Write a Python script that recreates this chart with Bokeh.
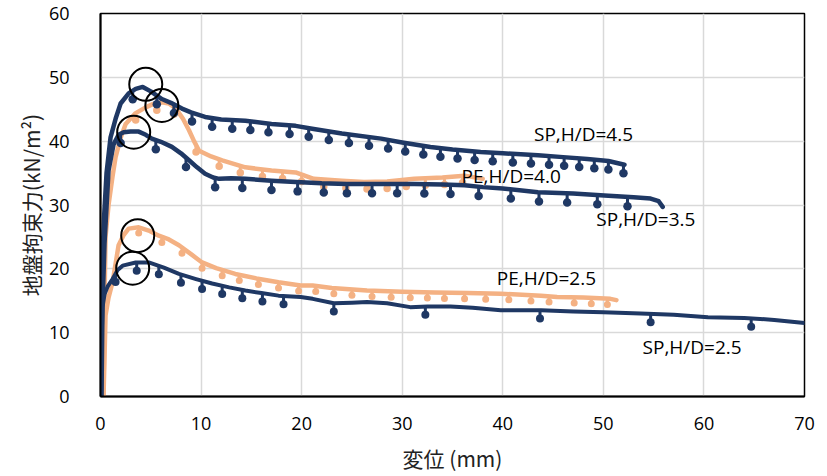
import numpy as np
from bokeh.plotting import figure
from bokeh.models import Range1d, Label, FixedTicker
from bokeh.embed import file_html
from bokeh.resources import INLINE

# ---------------- data ----------------
sp45_x = [0.05, 0.1, 0.2, 0.35, 0.6, 1.0, 1.5, 2.0, 2.8, 3.5, 4.2, 5.0, 6.1, 7.0, 8.1, 9.0, 10.4, 12.0,
          14.4, 17.0, 19.4, 21.2, 24.0, 27.9, 30.0, 32.8, 35.0, 37.8, 40.0, 43.5, 46.0, 48.4, 50.5, 52.1]
sp45_y = [0, 12, 22, 28, 35, 40.6, 43.5, 45.9, 47.5, 48.2, 48.5, 47.8, 46.6, 46.0, 45.1, 44.5, 43.8, 43.4,
          43.2, 42.7, 42.4, 41.9, 41.2, 40.4, 39.8, 39.1, 38.7, 38.3, 38.1, 37.8, 37.5, 37.2, 36.9, 36.3]
sp45_dips = [3.2, 5.6, 7.3, 9.1, 11.1, 13.1, 14.9, 16.7, 18.8, 20.7, 22.7, 24.7, 26.7, 28.6, 30.3, 32.1,
             33.8, 35.5, 37.2, 39.0, 41.0, 42.8, 44.6, 46.1, 47.6, 49.1, 50.5, 52.0]
sp45_depth = 1.35

sp35_x = [0.1, 0.2, 0.4, 0.8, 1.3, 1.8, 2.3, 3.0, 3.8, 4.5, 5.1, 6.0, 7.1, 8.0, 8.8, 9.6, 10.4, 11.2, 11.8,
          13.0, 14.4, 17.0, 19.4, 22.0, 24.5, 28.0, 31.2, 34.0, 36.2, 38.0, 40.0, 43.5, 47.0, 50.1, 53.0,
          54.7, 55.5, 55.9]
sp35_y = [0, 14, 24, 35.4, 39.5, 41.0, 41.4, 41.5, 41.5, 41.0, 40.4, 39.9, 39.1, 38.1, 37.0, 35.9, 34.9,
          34.3, 34.1, 34.2, 34.1, 33.8, 33.6, 33.4, 33.3, 33.3, 33.3, 33.2, 33.1, 32.8, 32.6, 32.0, 31.8,
          31.5, 31.2, 31.0, 30.6, 29.7]
sp35_dips = [2.0, 5.5, 8.5, 11.4, 14.1, 17.0, 19.6, 22.2, 24.5, 27.0, 29.5, 32.2, 34.8, 37.6, 40.8, 43.6,
             46.4, 49.4, 52.4]
sp35_depth = 1.45

pe40_x = [0.3, 0.4, 0.5, 0.8, 1.2, 1.5, 2.0, 2.5, 3.5, 4.5, 5.2, 6.1, 6.8, 7.5, 8.2, 8.8, 9.3, 9.8, 11.0,
          12.1, 14.4, 17.0, 19.4, 21.2, 24.0, 26.2, 28.5, 31.2, 34.0, 36.2, 38.0]
pe40_y = [0, 15, 25, 30, 34.5, 37.5, 40.5, 42.7, 44.4, 45.3, 45.8, 46.1, 45.9, 45.1, 43.5, 41.7, 40.0, 38.5,
          37.6, 37.0, 35.9, 35.4, 35.1, 34.1, 33.8, 33.6, 33.7, 34.1, 34.3, 34.6, 34.1]
pe40_dips = [3.5, 5.6, 7.3, 9.5, 11.8, 13.9, 16.1, 18.1, 20.0, 22.2, 24.4, 26.5, 28.5, 30.4, 32.3, 34.2, 36.0]
pe40_depth = 1.1

pe25_x = [0.3, 0.4, 0.5, 0.8, 1.2, 1.8, 2.3, 2.8, 3.8, 4.8, 5.8, 6.8, 7.8, 9.0, 10.1, 11.5, 13.4, 15.5,
          17.7, 19.9, 21.1, 23.0, 26.5, 30.0, 33.2, 36.5, 39.8, 43.8, 45.4, 48.0, 50.7, 51.3]
pe25_y = [0, 6, 12.7, 15.5, 17.9, 23.7, 25.3, 26.3, 26.5, 26.0, 25.2, 24.6, 23.7, 22.3, 21.0, 20.1, 19.2,
          18.5, 17.9, 17.4, 17.4, 17.0, 16.6, 16.4, 16.3, 16.2, 16.1, 15.8, 15.6, 15.5, 15.3, 15.1]
pe25_dips = [3.8, 6.1, 8.1, 10.1, 12.1, 13.8, 15.7, 17.7, 19.7, 21.4, 23.2, 25.0, 27.0, 28.9, 30.8, 32.5,
             34.2, 36.2, 38.3, 40.6, 42.8, 44.6, 47.1, 48.8, 50.4]
pe25_depth = 0.9

sp25_x = [0.05, 0.1, 0.2, 0.4, 0.7, 1.2, 1.7, 2.2, 3.5, 4.8, 6.3, 7.8, 9.5, 11.1, 12.8, 14.4, 16.0, 17.7,
          19.9, 21.1, 23.2, 25.0, 26.5, 28.5, 30.8, 32.5, 34.8, 37.0, 39.8, 43.8, 47.0, 50.0, 53.7, 57.0,
          60.4, 64.0, 67.0, 70.0]
sp25_y = [0, 8, 14, 16, 17.2, 18.4, 19.8, 20.5, 21.0, 21.0, 20.2, 19.2, 18.4, 17.7, 17.1, 16.6, 16.2, 15.8,
          15.6, 15.3, 14.6, 14.7, 14.8, 14.6, 14.0, 14.1, 14.1, 13.9, 13.5, 13.5, 13.3, 13.2, 13.0, 12.8,
          12.4, 12.3, 12.0, 11.5]
sp25_dips = [1.5, 3.6, 5.8, 8.0, 10.1, 12.1, 14.1, 16.1, 18.2, 23.2, 32.3, 43.7, 54.7, 64.7]
sp25_depth = 1.3

peak_x = [4.5, 6.1, 3.3, 3.7, 3.2]
peak_y = [48.9, 45.6, 41.4, 25.2, 20.1]

label_text = ["SP,H/D=4.5", "PE,H/D=4.0", "SP,H/D=3.5", "PE,H/D=2.5", "SP,H/D=2.5"]
label_x = [43.1, 35.9, 49.3, 39.4, 53.9]
label_y = [41.2, 34.5, 27.8, 18.6, 7.8]

x_ticks = [0, 10, 20, 30, 40, 50, 60, 70]
y_ticks = [0, 10, 20, 30, 40, 50, 60]

NAVY = "#1F3864"
ORANGE = "#F4B183"

# ---------------- figure ----------------
p = figure(width=827, height=476, output_backend="svg", toolbar_location=None,
           x_range=Range1d(0, 70), y_range=Range1d(0, 60),
           min_border_left=100, min_border_right=23, min_border_top=13, min_border_bottom=80)
p.background_fill_color = "white"
p.border_fill_color = "white"
p.outline_line_color = "black"
p.outline_line_width = 1.5

for ax in (p.xaxis[0], p.yaxis[0]):
    ax.major_tick_line_color = None
    ax.minor_tick_line_color = None
    ax.axis_line_color = "black"
    ax.axis_line_width = 2
    ax.major_label_text_font = "Open Sans"
    ax.major_label_text_font_size = "18px"
    ax.major_label_text_color = "black"
    ax.axis_label_text_font = "Noto Sans CJK JP"
    ax.axis_label_text_font_size = "21px"
    ax.axis_label_text_font_style = "normal"
    ax.axis_label_text_color = "#222222"

p.xaxis.ticker = FixedTicker(ticks=x_ticks)
p.yaxis.ticker = FixedTicker(ticks=y_ticks)
p.xaxis.major_label_standoff = 14
p.yaxis.major_label_standoff = 25
p.xaxis.axis_label = "変位 (mm)"
p.yaxis.axis_label = "地盤拘束力(kN/m²)"
p.xaxis.axis_label_standoff = 10
p.yaxis.axis_label_standoff = 0

p.xgrid.ticker = FixedTicker(ticks=x_ticks)
p.ygrid.ticker = FixedTicker(ticks=y_ticks)
p.grid.grid_line_color = "#D9D9D9"
p.grid.grid_line_width = 1.5


def draw(xs, ys, dips, depth, color, lw, blob):
    xs = np.array(xs, dtype=float)
    ys = np.array(ys, dtype=float)
    d = np.array(dips, dtype=float)
    base = np.interp(d, xs, ys)
    # unloading drops: a short stem under the curve ending in a blob
    p.vbar(x=d, top=base, bottom=base - depth, width=0.3, fill_color=color, line_color=None)
    p.scatter(x=d, y=base - depth, size=blob, marker="circle", fill_color=color, line_color=None)
    p.line(xs, ys, line_color=color, line_width=lw, line_join="round", line_cap="round")


draw(pe25_x, pe25_y, pe25_dips, pe25_depth, ORANGE, 4.5, 7)
draw(pe40_x, pe40_y, pe40_dips, pe40_depth, ORANGE, 4.5, 7.5)
draw(sp25_x, sp25_y, sp25_dips, sp25_depth, NAVY, 4, 8)
draw(sp35_x, sp35_y, sp35_dips, sp35_depth, NAVY, 4.5, 8.5)
draw(sp45_x, sp45_y, sp45_dips, sp45_depth, NAVY, 4.5, 8.5)

p.scatter(x=peak_x, y=peak_y, size=33, marker="circle", fill_color=None,
          line_color="black", line_width=2)

for t, lx, ly in zip(label_text, label_x, label_y):
    p.add_layout(Label(x=lx, y=ly, text=t, text_font="Open Sans", text_font_size="19px",
                       text_color="black", text_align="left", text_baseline="middle"))

open("out.html", "w").write(file_html(p, INLINE))
